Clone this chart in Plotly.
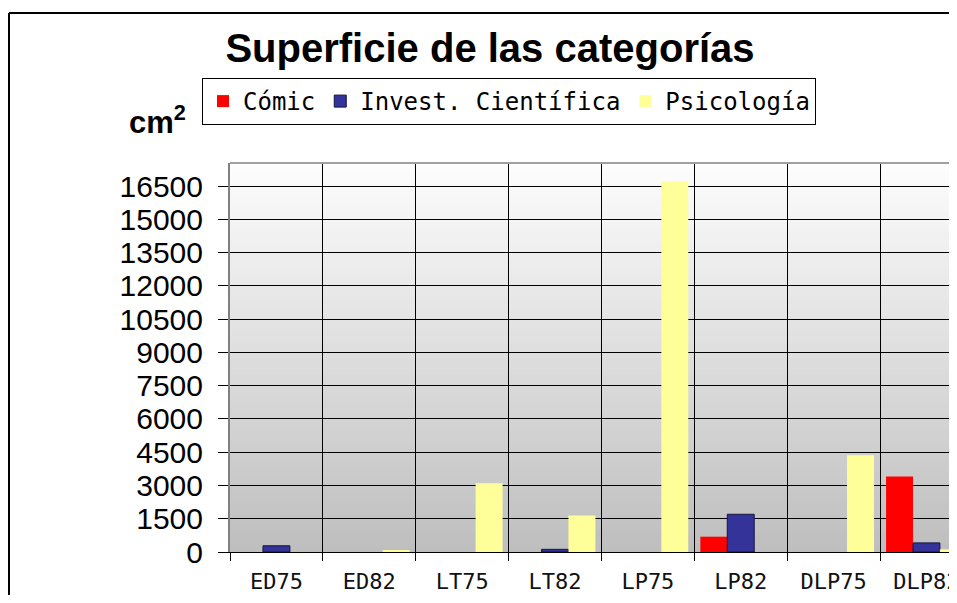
import plotly.graph_objects as go

categories = ["ED75", "ED82", "LT75", "LT82", "LP75", "LP82", "DLP75", "DLP82"]
comic = [None, None, None, None, None, 690, None, 3400]
invest = [280, None, None, 120, None, 1700, None, 410]
psico = [None, 90, 3100, 1650, 16700, None, 4360, 120]
ytick_vals = [0, 1500, 3000, 4500, 6000, 7500, 9000, 10500, 12000, 13500, 15000, 16500]

W, H = 949, 587
L, T, B = 222, 155, 43

fig = go.Figure()
fig.add_trace(go.Bar(name="Cómic", x=categories, y=comic,
                     marker=dict(color="#FF0000", line=dict(width=0))))
fig.add_trace(go.Bar(name="Invest. Científica", x=categories, y=invest,
                     marker=dict(color="#333399", line=dict(color="#141440", width=1))))
fig.add_trace(go.Bar(name="Psicología", x=categories, y=psico,
                     marker=dict(color="#FFFF99", line=dict(width=0))))

# gradient background of plot area
shapes = []
N = 90
top = (253, 253, 253)
bot = (190, 190, 190)
for i in range(N):
    f = (i + 0.5) / N  # 0 at bottom
    c = tuple(round(bot[k] + (top[k] - bot[k]) * f) for k in range(3))
    shapes.append(dict(type="rect", xref="x domain", yref="y domain",
                       x0=0, x1=1, y0=i / N, y1=(i + 1) / N + 0.002,
                       fillcolor="rgb(%d,%d,%d)" % c, line=dict(width=0),
                       layer="below"))
# top border of plot area
shapes.append(dict(type="line", xref="x domain", yref="y domain", x0=0, x1=1, y0=1, y1=1,
                   line=dict(color="#a0a0a0", width=2), layer="above"))
# outer chart border (left and top edges visible)
pw = W - L
ph = H - T - B
bx = (1 - L) / pw
by = 1 + (T - 5) / ph
shapes.append(dict(type="line", xref="paper", yref="paper", x0=bx, x1=bx, y0=-0.5, y1=by,
                   line=dict(color="black", width=2), layer="above"))
shapes.append(dict(type="line", xref="paper", yref="paper", x0=bx, x1=1.2, y0=by, y1=by,
                   line=dict(color="black", width=2), layer="above"))

xr_max = -0.5 + (W - L) / 92.86

fig.update_layout(
    width=W, height=H,
    margin=dict(l=L, r=0, t=T, b=B, pad=0, autoexpand=False),
    paper_bgcolor="white", plot_bgcolor="rgba(0,0,0,0)",
    barmode="group", bargap=0.13, bargroupgap=0,
    shapes=shapes,
    title=dict(text="<b>Superficie de las categorías</b>", xref="container", yref="container",
               x=482 / W, y=1 - 40 / H, xanchor="center", yanchor="middle",
               font=dict(family="Liberation Sans", size=40, color="black")),
    legend=dict(orientation="h", x=(194 - L) / pw, y=1 + (T - 70) / ph,
                xanchor="left", yanchor="top",
                bordercolor="black", borderwidth=1, bgcolor="white",
                font=dict(family="DejaVu Sans Mono", size=24, color="black"),
                itemwidth=30, tracegroupgap=0),
    annotations=[dict(text="<b>cm<sup>2</sup></b>", xref="paper", yref="paper",
                      x=(149 - L) / pw, y=1 + (T - 112) / ph, xanchor="center", yanchor="middle",
                      showarrow=False, font=dict(family="Liberation Sans", size=31, color="black"))],
    showlegend=True,
)

fig.update_xaxes(type="category", range=[-0.5, xr_max], tickson="boundaries",
                 automargin=False,
                 showgrid=True, gridcolor="black", gridwidth=1,
                 ticks="outside", ticklen=8, tickcolor="black", tickwidth=1,
                 showline=True, linecolor="black", linewidth=1,
                 tickfont=dict(family="DejaVu Sans Mono", size=22, color="#111111"),
                 ticklabelstandoff=10)
fig.update_yaxes(range=[0, 17537], tickvals=ytick_vals, ticktext=[str(v) for v in ytick_vals],
                 automargin=False,
                 showgrid=True, gridcolor="black", gridwidth=1, zeroline=False,
                 ticks="outside", ticklen=10, tickcolor="black", tickwidth=1,
                 showline=True, linecolor="#808080", linewidth=2,
                 tickfont=dict(family="Liberation Sans", size=30, color="black"),
                 ticklabelstandoff=9)

fig.write_html("out.html")
